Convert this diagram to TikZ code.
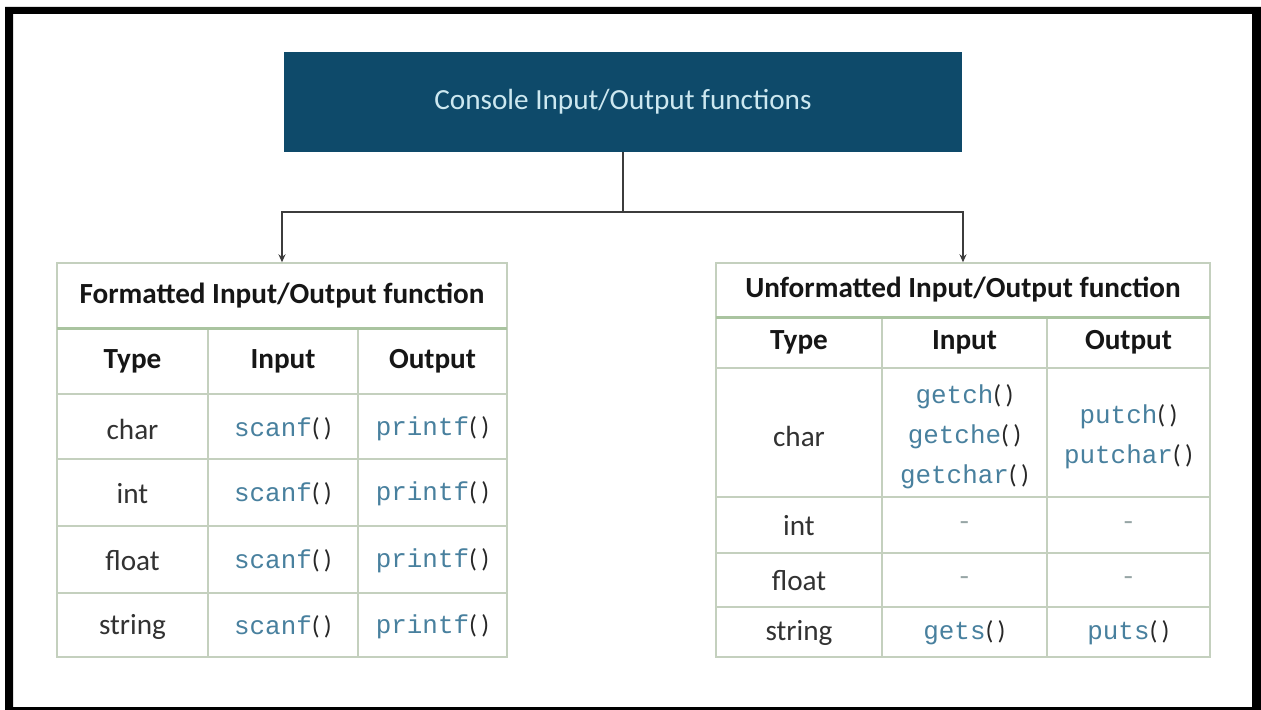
\documentclass[tikz,border=0pt]{standalone}
\usepackage{fontspec}
\setmainfont{Carlito}
\newfontfamily\codefont{Liberation Mono}
\usetikzlibrary{arrows.meta}

\definecolor{boxblue}{RGB}{14,74,106}
\definecolor{boxtext}{RGB}{205,232,240}
\definecolor{gridc}{RGB}{196,208,190}
\definecolor{rulec}{RGB}{170,196,160}
\definecolor{headc}{RGB}{22,22,22}
\definecolor{typec}{RGB}{50,50,50}
\definecolor{codec}{RGB}{72,128,158}
\definecolor{parc}{RGB}{40,40,40}
\definecolor{dashc}{RGB}{150,165,165}
\definecolor{connc}{RGB}{60,60,60}

% function name in mono, parentheses in the text face
\newcommand\cfun[1]{{\codefont\color{codec}#1}{\color{parc}(\,)}}

\begin{document}
\begin{tikzpicture}[x=1bp,y=-1bp,
  topbox/.style={fill=boxblue, text=boxtext, inner sep=0pt,
    font=\fontsize{29.3}{34}\selectfont},
  titlecell/.style={draw=gridc, line width=1.4bp, inner sep=0pt, text=headc,
    font=\bfseries\fontsize{29.3}{34}\selectfont},
  gridline/.style={draw=gridc, line width=1.4bp},
  titlerule/.style={draw=rulec, line width=3bp},
  head/.style={text=headc, font=\bfseries\fontsize{29.3}{34}\selectfont},
  typ/.style={text=typec, font=\fontsize{29.3}{34}\selectfont},
  code/.style={font=\fontsize{26}{40}\selectfont, align=center},
  nada/.style={text=dashc, font=\codefont\fontsize{26}{30}\selectfont},
  conn/.style={draw=connc, line width=1.3bp},
  arr/.style={conn, -{Stealth[length=8bp,width=7bp]}}]

\useasboundingbox (0,0) rectangle (1261,710);
\fill[white] (0,0) rectangle (1261,710);
% outer black frame
\fill[black, even odd rule] (5,7) rectangle (1261,710) (13,14) rectangle (1252,707);

% heading box
\node[topbox, minimum width=678bp, minimum height=100bp] (top) at (623,102)
  {Console Input/Output functions};

% ---------- formatted table ----------
\node[titlecell, minimum width=450bp, minimum height=65bp] (ltitle) at (282,295.5)
  {Formatted Input/Output function};
\draw[gridline] (57,328) rectangle (507,657);
\foreach \yy in {394,459,526,593} \draw[gridline] (57,\yy) -- (507,\yy);
\foreach \xx in {208,358} \draw[gridline] (\xx,328) -- (\xx,657);
\draw[titlerule] (57,328) -- (507,328);

\node[head] (lh1) at (132.5,361) {Type};
\node[head] (lh2) at (283,361) {Input};
\node[head] (lh3) at (432.5,361) {Output};

\node[typ] (lt1) at (132.5,429) {char};
\node[typ] (lt2) at (132.5,494) {int};
\node[typ] (lt3) at (132.5,561) {float};
\node[typ] (lt4) at (132.5,627) {string};

\node[code] (li1) at (283,429) {\cfun{scanf}};
\node[code] (li2) at (283,494) {\cfun{scanf}};
\node[code] (li3) at (283,561) {\cfun{scanf}};
\node[code] (li4) at (283,627) {\cfun{scanf}};
\node[code] (lo1) at (432.5,429) {\cfun{printf}};
\node[code] (lo2) at (432.5,494) {\cfun{printf}};
\node[code] (lo3) at (432.5,561) {\cfun{printf}};
\node[code] (lo4) at (432.5,627) {\cfun{printf}};

% ---------- unformatted table ----------
\node[titlecell, minimum width=494bp, minimum height=54bp] (rtitle) at (963,290)
  {Unformatted Input/Output function};
\draw[gridline] (716,317) rectangle (1210,657);
\foreach \yy in {368,497,553,607} \draw[gridline] (716,\yy) -- (1210,\yy);
\foreach \xx in {882,1047} \draw[gridline] (\xx,317) -- (\xx,657);
\draw[titlerule] (716,317) -- (1210,317);

\node[head] (rh1) at (799,342.5) {Type};
\node[head] (rh2) at (964.5,342.5) {Input};
\node[head] (rh3) at (1128.5,342.5) {Output};

\node[typ] (rt1) at (799,436) {char};
\node[typ] (rt2) at (799,526) {int};
\node[typ] (rt3) at (799,581) {float};
\node[typ] (rt4) at (799,633) {string};

\node[code] (ri1) at (964.5,437) {\cfun{getch}\\\cfun{getche}\\\cfun{getchar}};
\node[code] (ro1) at (1128.5,437) {\cfun{putch}\\\cfun{putchar}};
\node[nada] (ri2) at (964.5,526) {-};
\node[nada] (ro2) at (1128.5,526) {-};
\node[nada] (ri3) at (964.5,581) {-};
\node[nada] (ro3) at (1128.5,581) {-};
\node[code] (ri4) at (964.5,633) {\cfun{gets}};
\node[code] (ro4) at (1128.5,633) {\cfun{puts}};

% ---------- connectors ----------
\coordinate (split) at (623,212);
\draw[conn] (top.south) -- (split);
\draw[arr] (split) -| (ltitle.north);
\draw[arr] (split) -| (rtitle.north);
\end{tikzpicture}
\end{document}
